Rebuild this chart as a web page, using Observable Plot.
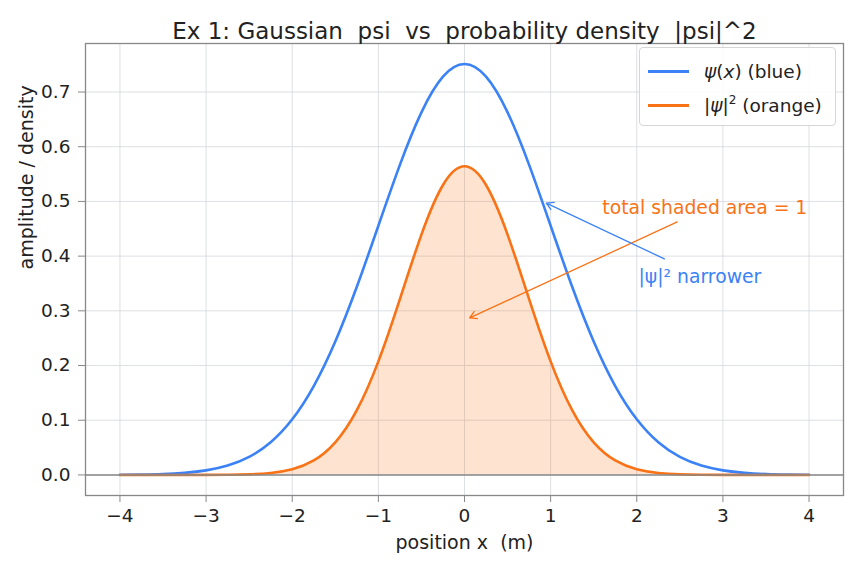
<!DOCTYPE html>
<html>
<head>
<meta charset="utf-8">
<script src="https://cdn.jsdelivr.net/npm/d3@7"></script>
<script src="https://cdn.jsdelivr.net/npm/@observablehq/plot@0.6"></script>
<style>
  html, body { margin: 0; padding: 0; background: #fff; }
  #wrap { position: relative; width: 858px; height: 569px; font-family: "DejaVu Sans", sans-serif; }
  #legend { position: absolute; left: 639px; top: 47px; width: 197px; height: 79px; border: 1px solid #d6d6d6; border-radius: 4px; background: rgba(255,255,255,0.85); box-sizing: border-box; font-size: 18.5px; color: #222; }
  .item { position: absolute; left: 8px; height: 24px; display: flex; align-items: center; white-space: nowrap; }
  .sw { width: 41px; height: 0; border-top: 3px solid; margin-right: 15px; }
  sup { font-size: 12px; vertical-align: 8px; line-height: 0; }
</style>
</head>
<body>
<div id="wrap">
  <div id="chart"></div>
  <div id="legend">
    <div class="item" style="top:11px"><span class="sw" style="border-color:#3b82f6"></span><span><i>ψ</i>(<i>x</i>) (blue)</span></div>
    <div class="item" style="top:45px"><span class="sw" style="border-color:#f97316"></span><span>|<i>ψ</i>|<sup>2</sup> (orange)</span></div>
  </div>
</div>
<script>
const xs   = [-4, -3.75, -3.5, -3.25, -3, -2.75, -2.5, -2.25, -2, -1.75, -1.5, -1.25, -1, -0.75, -0.5, -0.25, 0,
              0.25, 0.5, 0.75, 1, 1.25, 1.5, 1.75, 2, 2.25, 2.5, 2.75, 3, 3.25, 3.5, 3.75, 4];
const psi  = [0.0003, 0.0007, 0.0016, 0.0038, 0.0083, 0.0171, 0.0330, 0.0598, 0.1017, 0.1625, 0.2439, 0.3439, 0.4556, 0.5669, 0.6628, 0.7280, 0.7511,
              0.7280, 0.6628, 0.5669, 0.4556, 0.3439, 0.2439, 0.1625, 0.1017, 0.0598, 0.0330, 0.0171, 0.0083, 0.0038, 0.0016, 0.0007, 0.0003];
const psi2 = [0.0000, 0.0000, 0.0000, 0.0000, 0.0001, 0.0003, 0.0011, 0.0036, 0.0103, 0.0264, 0.0595, 0.1183, 0.2076, 0.3215, 0.4394, 0.5300, 0.5642,
              0.5300, 0.4394, 0.3215, 0.2076, 0.1183, 0.0595, 0.0264, 0.0103, 0.0036, 0.0011, 0.0003, 0.0001, 0.0000, 0.0000, 0.0000, 0.0000];
const xTicks = [-4, -3, -2, -1, 0, 1, 2, 3, 4];
const yTicks = [0, 0.1, 0.2, 0.3, 0.4, 0.5, 0.6, 0.7];

// annotations (data coordinates)
const annoText = [
  {x: 1.6, y: 0.488, text: "total shaded area = 1", color: "#f97316"},
  {x: 2.02, y: 0.362, text: "|ψ|² narrower", color: "#3b82f6"}
];
const annoArrows = [
  {x1: 2.47, y1: 0.4625, x2: 0.06, y2: 0.287, color: "#f97316"},
  {x1: 2.32, y1: 0.395, x2: 0.95, y2: 0.497, color: "#3b82f6"}
];

const data = xs.map((x, i) => ({x, psi: psi[i], psi2: psi2[i]}));

const blue = "#3b82f6", orange = "#f97316", axisGray = "#888888", grid = "#d3d7dc";

const plot = Plot.plot({
  width: 858,
  height: 569,
  marginLeft: 85,
  marginRight: 15,
  marginTop: 43,
  marginBottom: 74,
  style: {fontFamily: "DejaVu Sans, sans-serif", fontSize: "18.5px", color: "#222", background: "#fff"},
  x: {domain: [-4.4, 4.4]},
  y: {domain: [-0.0376, 0.7887]},
  marks: [
    Plot.gridX(xTicks, {stroke: grid, strokeOpacity: 1, strokeWidth: 0.8}),
    Plot.gridY(yTicks, {stroke: grid, strokeOpacity: 1, strokeWidth: 0.8}),
    Plot.areaY(data, {x: "x", y: "psi2", fill: orange, fillOpacity: 0.2, curve: "natural"}),
    Plot.lineY(data, {x: "x", y: "psi", stroke: blue, strokeWidth: 2.6, curve: "natural"}),
    Plot.lineY(data, {x: "x", y: "psi2", stroke: orange, strokeWidth: 2.6, curve: "natural"}),
    Plot.ruleY([0], {stroke: axisGray, strokeWidth: 1.5}),
    Plot.arrow(annoArrows, {x1: "x1", y1: "y1", x2: "x2", y2: "y2", stroke: "color", strokeWidth: 1.3, headLength: 9, bend: 0}),
    Plot.text(annoText, {x: "x", y: "y", text: "text", fill: "color", textAnchor: "start", fontSize: 18.8}),
    Plot.frame({stroke: axisGray, strokeWidth: 1.3}),
    Plot.axisX({ticks: xTicks, tickSize: 7, tickPadding: 6, stroke: axisGray, fontSize: 18.5, label: null}),
    Plot.axisY({ticks: yTicks, tickSize: 7, tickPadding: 8, stroke: axisGray, fontSize: 18.5, label: null, tickFormat: d3.format(".1f")}),
    Plot.text(["position x  (m)"], {frameAnchor: "bottom", dy: 53, fontSize: 19, fill: "#222"}),
    Plot.text(["amplitude / density"], {frameAnchor: "left", dx: -59, rotate: -90, fontSize: 19, fill: "#222"}),
    Plot.text(["Ex 1: Gaussian  psi  vs  probability density  |psi|^2"], {frameAnchor: "top", dy: -21, fontSize: 23, fill: "#222"})
  ]
});
document.getElementById("chart").appendChild(plot);
</script>
</body>
</html>
